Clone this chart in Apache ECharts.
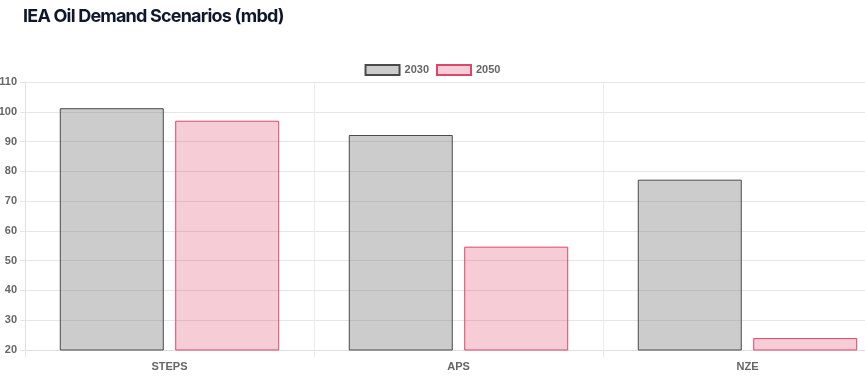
<!DOCTYPE html>
<html>
<head>
<meta charset="utf-8">
<script src="https://cdn.jsdelivr.net/npm/echarts@6/dist/echarts.min.js"></script>
<style>
html,body{margin:0;padding:0;background:#fff;}
#title{position:absolute;left:23px;top:5px;font-family:Inter,"Noto Sans",sans-serif;font-weight:700;font-size:18px;letter-spacing:-0.8px;color:#0f172a;}
#chart{position:absolute;left:0;top:0;width:865px;height:380px;}
</style>
</head>
<body>
<div id="chart"></div>
<div id="title">IEA Oil Demand Scenarios (mbd)</div>
<script>
const categories = ["STEPS", "APS", "NZE"];
const seriesNames = ["2030", "2050"];
const values2030 = [101.2, 92.2, 77.2];
const values2050 = [97.0, 54.7, 24.0];
const yTicks = [20, 30, 40, 50, 60, 70, 80, 90, 100, 110];

const chart = echarts.init(document.getElementById('chart'), null, {renderer: 'canvas'});
const labelFont = {fontFamily: 'Arial, "Liberation Sans", sans-serif', fontWeight: 'bold', fontSize: 11, color: '#666'};
chart.setOption({
  animation: false,
  legend: {
    top: 59,
    left: 'center',
    icon: 'rect',
    itemWidth: 34,
    itemHeight: 10,
    itemGap: 7,
    textStyle: labelFont,
    data: seriesNames
  },
  grid: {left: 25, right: -27, top: 82, bottom: 30, containLabel: false, outerBoundsMode: 'none'},
  xAxis: {
    type: 'category',
    data: categories,
    boundaryGap: true,
    axisLine: {show: true, lineStyle: {color: '#e0e0e0', width: 1}},
    axisTick: {show: true, length: 7, lineStyle: {color: '#e6e6e6'}},
    splitLine: {show: true, lineStyle: {color: '#ebebeb', width: 1}},
    axisLabel: Object.assign({margin: 11}, labelFont)
  },
  yAxis: {
    type: 'value',
    min: yTicks[0],
    max: yTicks[yTicks.length - 1],
    interval: 10,
    axisLine: {show: true, lineStyle: {color: '#e0e0e0'}},
    axisTick: {show: true, length: 5, lineStyle: {color: '#e6e6e6'}},
    splitLine: {show: true, lineStyle: {color: '#e6e6e6', width: 1}},
    axisLabel: Object.assign({margin: 8}, labelFont)
  },
  series: [
    {
      name: seriesNames[0],
      type: 'bar',
      data: values2030,
      barWidth: 104,
      barGap: '11%',
      itemStyle: {color: 'rgba(128,128,128,0.4)', borderColor: '#4a4a4a', borderWidth: 1}
    },
    {
      name: seriesNames[1],
      type: 'bar',
      data: values2050,
      barWidth: 104,
      barGap: '11%',
      itemStyle: {color: 'rgba(220,53,90,0.25)', borderColor: '#d9486a', borderWidth: 1}
    }
  ]
});
</script>
</body>
</html>
